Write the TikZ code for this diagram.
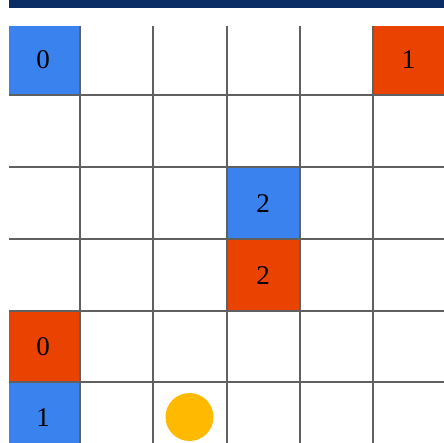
\documentclass[tikz,border=0pt]{standalone}
\usepackage{fontspec}
\setmainfont{Liberation Serif}
\definecolor{cblue}{HTML}{3A82EE}
\definecolor{corange}{HTML}{EA4200}
\definecolor{cnavy}{HTML}{0A2D66}
\definecolor{cyellow}{HTML}{FFBA00}
\definecolor{cgrid}{HTML}{606060}
\tikzset{
  gridline/.style={draw=cgrid, line width=1.1pt},
  lbl/.style={font=\fontsize{27}{27}\selectfont, text=black, inner sep=0pt},
}
\begin{document}
\begin{tikzpicture}[x=1pt,y=-1pt]
\useasboundingbox (0,0) rectangle (444,443);
\fill[white] (0,0) rectangle (444,443);
% top bar
\fill[cnavy] (9,0) rectangle (444,8.5);
% colored cells
\fill[cblue] (9,26) rectangle (80,95);
\fill[corange] (373,26) rectangle (444,95);
\fill[cblue] (227,167) rectangle (300,239);
\fill[corange] (227,239) rectangle (300,311);
\fill[corange] (9,311) rectangle (80,382);
\fill[cblue] (9,382) rectangle (80,443);
% goal
\fill[cyellow] (189.5,417) circle (24);
% grid lines
\foreach \x in {80,153,227,300,373} \draw[gridline] (\x,26) -- (\x,443);
\foreach \y in {95,167,239,311,382} \draw[gridline] (9,\y) -- (444,\y);
% labels
\node[lbl] (a0) at (43,59.5) {0};
\node[lbl] (b1) at (408.5,59.5) {1};
\node[lbl] (a2) at (263,203.5) {2};
\node[lbl] (b2) at (263,275.5) {2};
\node[lbl] (b0) at (43,346.5) {0};
\node[lbl] (a1) at (43,418) {1};
\end{tikzpicture}
\end{document}
